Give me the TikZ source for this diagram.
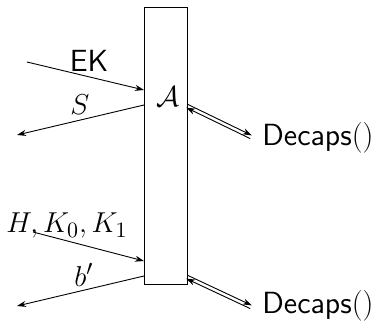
\documentclass[tikz,border=0pt]{standalone}
\usetikzlibrary{arrows.meta}
\begin{document}
\begin{tikzpicture}[x=0.5pt,y=-0.5pt,
  arr/.style={-{Stealth[length=4.5pt,width=3pt]},line width=0.45pt},
  lab/.style={inner sep=0pt,anchor=base,font=\fontsize{15.3}{18}\selectfont},
  advbox/.style={draw,line width=0.5pt,minimum width=21.5pt,minimum height=138.5pt,inner sep=0pt}]
\useasboundingbox (0,0) rectangle (374,325);
\node[advbox] (adv) at (165.5,146.5) {};
\node[lab] (alab) at (168,106.5) {$\mathcal{A}$};
\node[lab] (ek) at (89,72) {\textsf{EK}};
\node[lab] (s) at (80,115) {$S$};
\node[lab] (h) at (67,233) {$H, K_0, K_1$};
\node[lab] (b) at (84,286) {$b'$};
\node[lab,anchor=base west] (dec1) at (262,146) {\textsf{Decaps}()};
\node[lab,anchor=base west] (dec2) at (262,314) {\textsf{Decaps}()};
% free ends
\coordinate (ek0) at (27,62);   \coordinate (ek1) at (144,90);
\coordinate (s0) at (144,105);  \coordinate (s1) at (17,135);
\coordinate (h0) at (33,232);   \coordinate (h1) at (144,261);
\coordinate (b0) at (144,276);  \coordinate (b1) at (17,306);
\coordinate (p1) at (187,106);  \coordinate (q1) at (251,137);
\coordinate (p2) at (187,277);  \coordinate (q2) at (251,307);
\draw[arr] (ek0) -- (ek1);
\draw[arr] (s0) -- (s1);
\draw[arr] (h0) -- (h1);
\draw[arr] (b0) -- (b1);
\draw[arr] ([shift={(0.8,-1.6)}]p1) -- ([shift={(0.8,-1.6)}]q1);
\draw[arr] ([shift={(-0.8,1.6)}]q1) -- ([shift={(-0.8,1.6)}]p1);
\draw[arr] ([shift={(0.8,-1.6)}]p2) -- ([shift={(0.8,-1.6)}]q2);
\draw[arr] ([shift={(-0.8,1.6)}]q2) -- ([shift={(-0.8,1.6)}]p2);
\end{tikzpicture}
\end{document}
